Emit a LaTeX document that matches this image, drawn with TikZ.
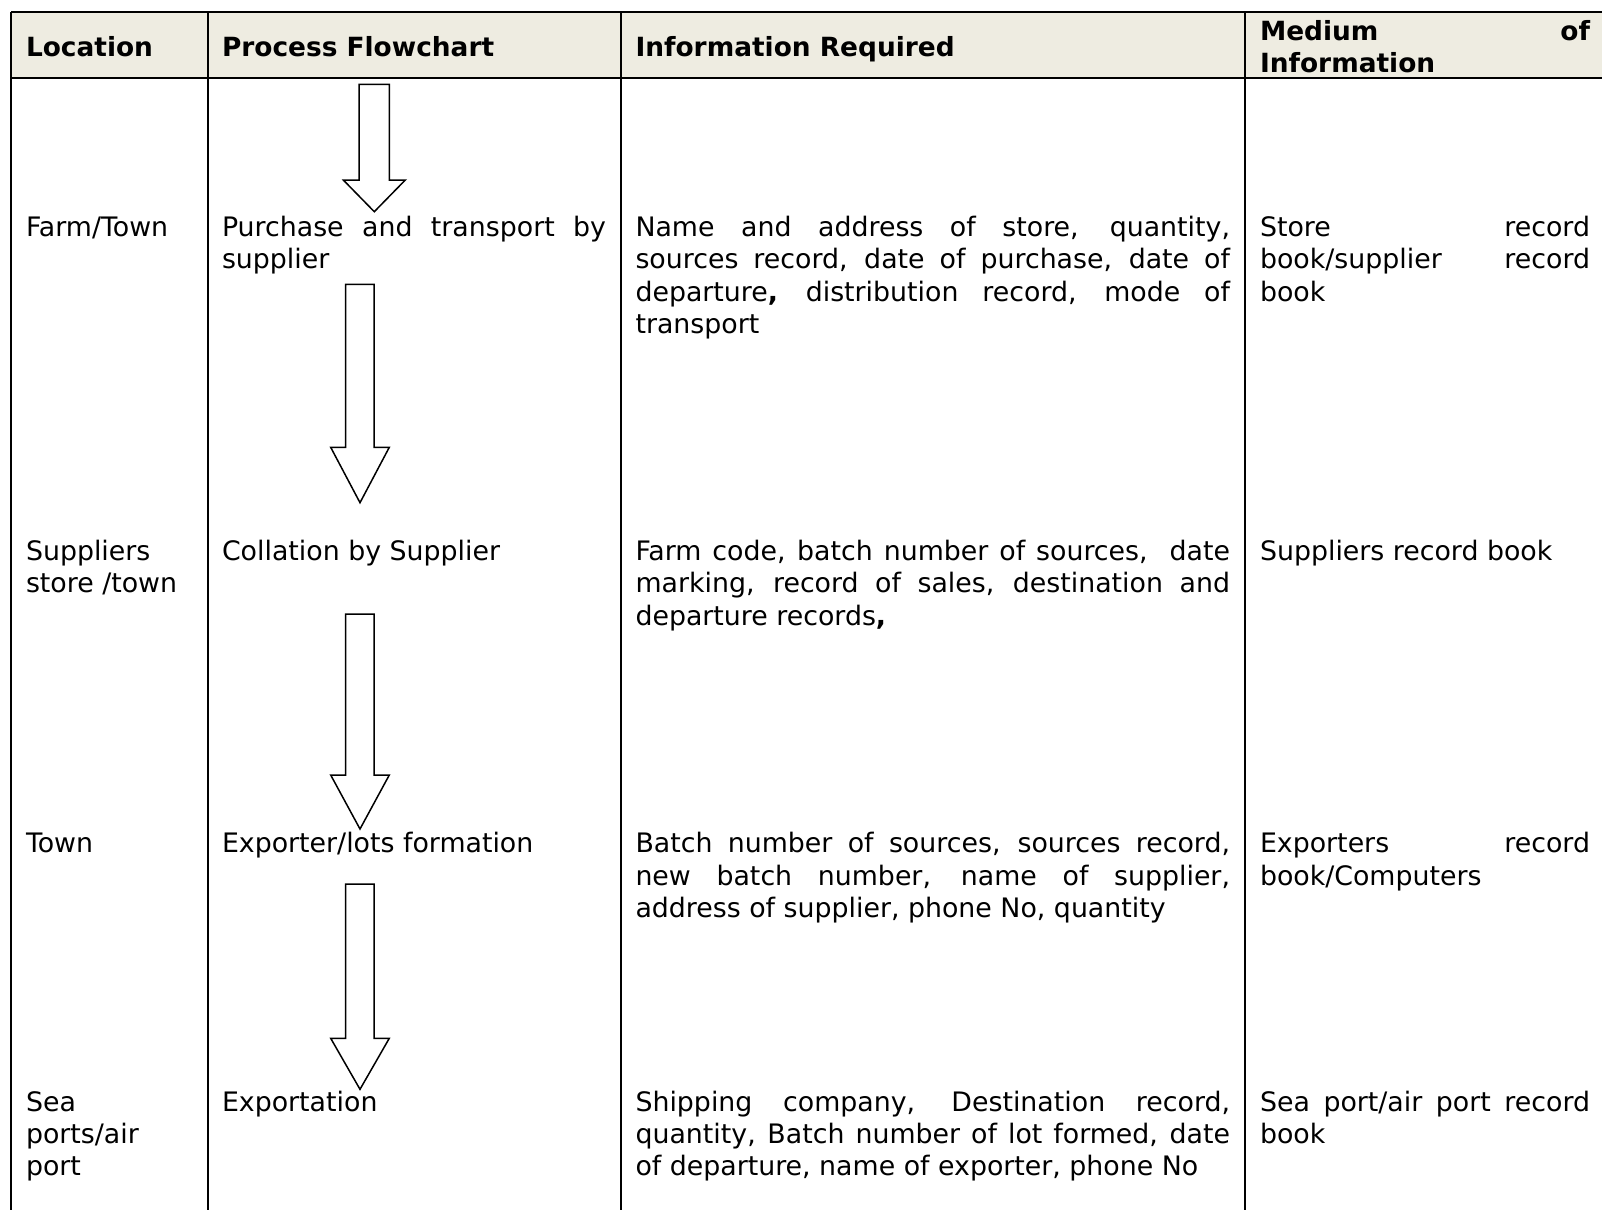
\documentclass[tikz,border=0pt]{standalone}
\usepackage{fontspec}
\setmainfont{DejaVu Sans}
\definecolor{hdrbg}{HTML}{EEECE1}
\newcommand\fsz{\fontsize{13.4pt}{16.2pt}\selectfont}
\newcommand\hsz{\fontsize{13.2pt}{16.2pt}\selectfont}
\newcommand\jline[2]{\makebox[#1][s]{#2}}
\tikzset{
  tline/.style={line width=1pt, draw=black},
  txt/.style={anchor=base west, inner sep=0pt, outer sep=0pt, font=\fsz, text=black},
  hdr/.style={txt, font=\hsz\bfseries},
  blockarrow/.style={draw=black, line width=0.75pt, fill=white, line join=miter},
}
\begin{document}
\begin{tikzpicture}[x=0.5pt,y=-0.5pt]
\useasboundingbox (0,0) rectangle (1602,1210);
\clip (0,0) rectangle (1602,1210);
% header background
\fill[hdrbg] (11,12.3) rectangle (1610,77.5);
% table lines
\draw[tline] (11,12.3) -- (1610,12.3);
\draw[tline] (11,77.5) -- (1610,77.5);
\draw[tline] (11,12.3) -- (11,1215);
\draw[tline] (208,12.3) -- (208,1215);
\draw[tline] (621,12.3) -- (621,1215);
\draw[tline] (1244.5,12.3) -- (1244.5,1215);
% header
\node[hdr] (hloc) at (26,56) {Location};
\node[hdr] (hproc) at (222,56) {Process Flowchart};
\node[hdr] (hinfo) at (635.5,56) {Information Required};
\node[hdr] (hmed1) at (1260,40.7) {\jline{165pt}{Medium of}};
\node[hdr] (hmed2) at (1260,72.5) {Information};
% arrows
\draw[blockarrow] (359,84.3) -- (389.3,84.3) -- (389.3,180) -- (405.3,180) -- (374.3,211.7) -- (343.3,180) -- (359,180) -- cycle;
\draw[blockarrow] (345.7,284.3) -- (374,284.3) -- (374,447.3) -- (389.3,447.3) -- (360,502.7) -- (330.7,447.3) -- (345.7,447.3) -- cycle;
\draw[blockarrow] (345.7,614) -- (374,614) -- (374,775) -- (389.3,775) -- (360,829) -- (330.7,775) -- (345.7,775) -- cycle;
\draw[blockarrow] (345.7,884) -- (374,884) -- (374,1038.3) -- (389.3,1038.3) -- (360,1089.3) -- (330.7,1038.3) -- (345.7,1038.3) -- cycle;
% row 1
\node[txt] (l1) at (26,236.5) {Farm/Town};
\node[txt] (p1a) at (222,236.5) {\jline{192pt}{Purchase and transport by}};
\node[txt] (p1b) at (222,268.9) {supplier};
\node[txt] (i1a) at (635.5,236.5) {\jline{297.25pt}{Name and address of store, quantity,}};
\node[txt] (i1b) at (635.5,268.9) {\jline{297.25pt}{sources record, date of purchase, date of}};
\node[txt] (i1c) at (635.5,301.3) {\jline{297.25pt}{departure\textbf{,} distribution record, mode of}};
\node[txt] (i1d) at (635.5,333.7) {transport};
\node[txt] (m1a) at (1260,236.5) {\jline{165pt}{Store record}};
\node[txt] (m1b) at (1260,268.9) {\jline{165pt}{book/supplier record}};
\node[txt] (m1c) at (1260,301.3) {book};
% row 2
\node[txt] (l2a) at (26,560.2) {Suppliers};
\node[txt] (l2b) at (26,592.6) {store /town};
\node[txt] (p2) at (222,560.2) {Collation by Supplier};
\node[txt] (i2a) at (635.5,560.2) {\jline{297.25pt}{Farm code, batch number of sources,\ \ date}};
\node[txt] (i2b) at (635.5,592.6) {\jline{297.25pt}{marking, record of sales, destination and}};
\node[txt] (i2c) at (635.5,625.0) {departure records\textbf{,}};
\node[txt] (m2) at (1260,560.2) {Suppliers record book};
% row 3
\node[txt] (l3) at (26,852.6) {Town};
\node[txt] (p3) at (222,852.6) {Exporter/lots formation};
\node[txt] (i3a) at (635.5,852.6) {\jline{297.25pt}{Batch number of sources, sources record,}};
\node[txt] (i3b) at (635.5,885.0) {\jline{297.25pt}{new batch number, name of supplier,}};
\node[txt] (i3c) at (635.5,917.4) {address of supplier, phone No, quantity};
\node[txt] (m3a) at (1260,852.6) {\jline{165pt}{Exporters record}};
\node[txt] (m3b) at (1260,885.0) {book/Computers};
% row 4
\node[txt] (l4a) at (26,1111.1) {Sea};
\node[txt] (l4b) at (26,1143.5) {ports/air};
\node[txt] (l4c) at (26,1175.9) {port};
\node[txt] (p4) at (222,1111.1) {Exportation};
\node[txt] (i4a) at (635.5,1111.1) {\jline{297.25pt}{Shipping company, Destination record,}};
\node[txt] (i4b) at (635.5,1143.5) {\jline{297.25pt}{quantity, Batch number of lot formed, date}};
\node[txt] (i4c) at (635.5,1175.9) {of departure, name of exporter, phone No};
\node[txt] (m4a) at (1260,1111.1) {\jline{165pt}{Sea port/air port record}};
\node[txt] (m4b) at (1260,1143.5) {book};
\end{tikzpicture}
\end{document}
